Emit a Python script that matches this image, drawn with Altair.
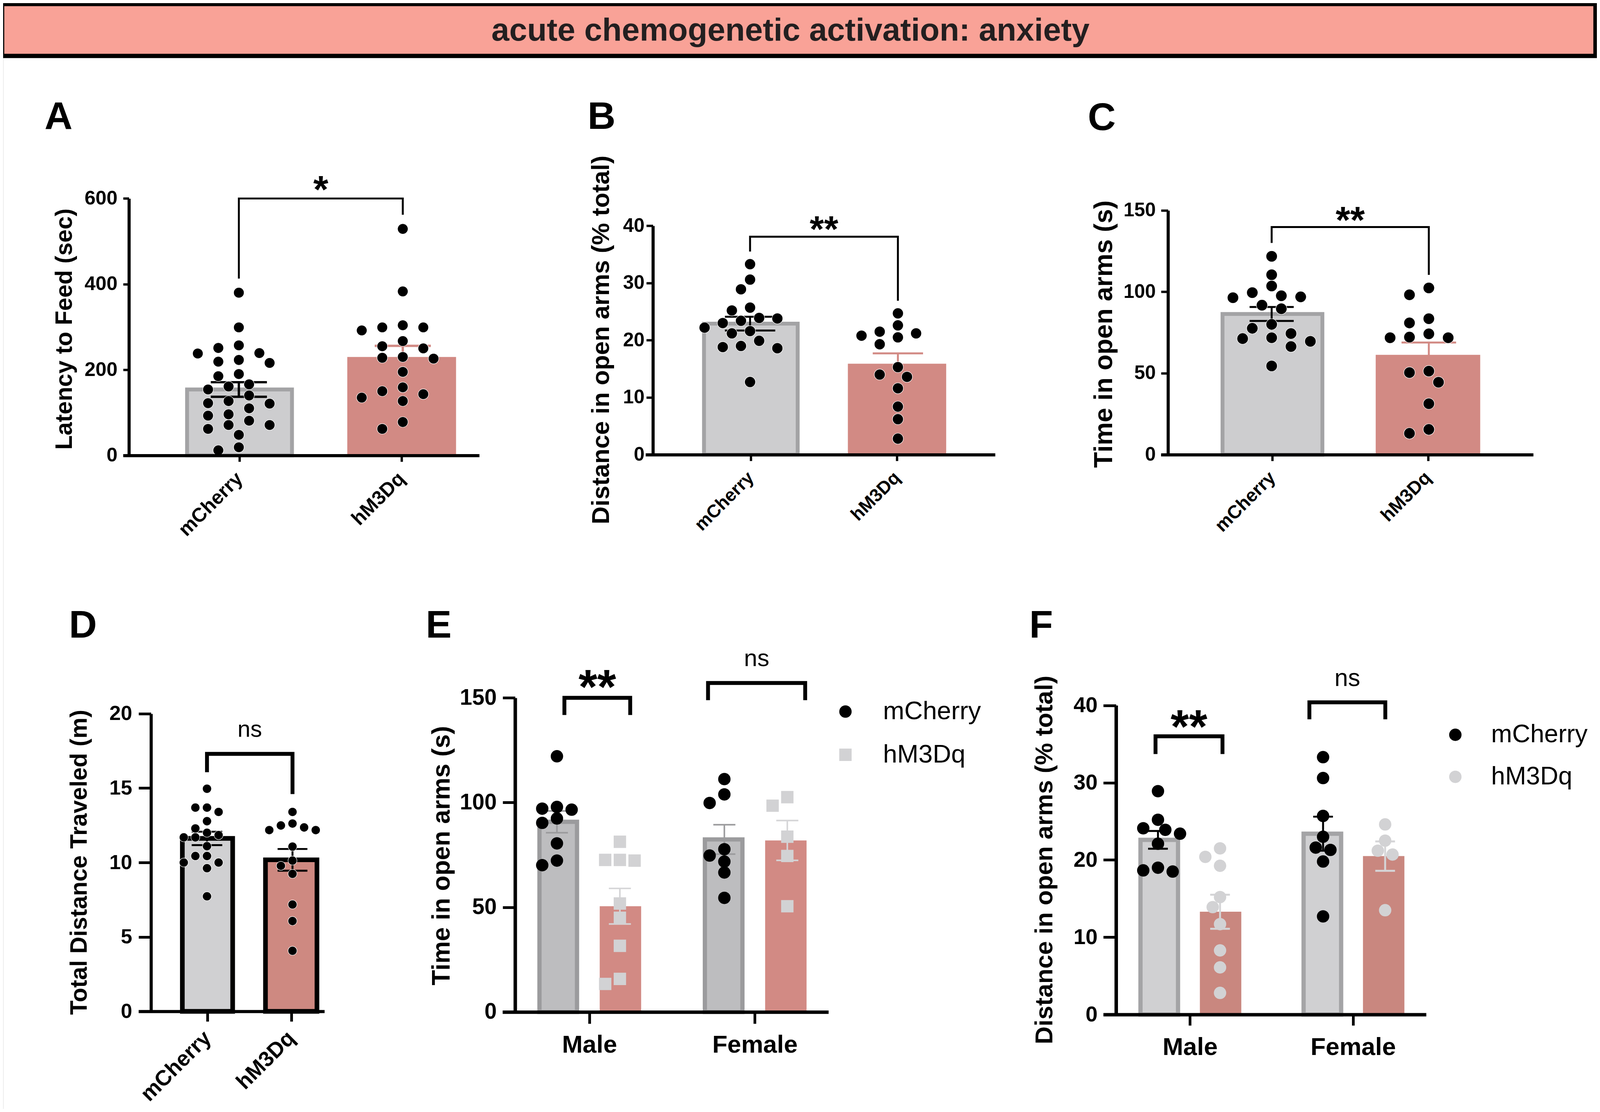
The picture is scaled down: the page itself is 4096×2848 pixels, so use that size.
import altair as alt
import pandas as pd

S = 0.991
W, H = 4080, 2832
FONT = "Liberation Sans"


def X(v):
    return round(v * S - 8, 2)


def Y(v):
    return round(v * S - 8, 2)


def L(v):
    return round(v * S, 2)


# ---------------- data ----------------
BANNER = "acute chemogenetic activation: anxiety"
GROUPS = ["mCherry", "hM3Dq"]
SEXES = ["Male", "Female"]

A_mcherry = [380, 299, 257, 251, 239, 238, 223, 219, 216, 190, 185, 166, 161, 154,
             140, 127, 122, 121, 110, 96, 93, 81, 71, 71, 62, 48, 19, 12]
A_hm3dq = [529, 383, 304, 299, 299, 292, 267, 255, 250, 230, 228, 226, 195, 159,
           150, 143, 135, 127, 78, 62]
A_mean = [154, 230]
A_sem = [17, 26]

B_mcherry = [33.3, 30.6, 28.9, 25.7, 25.2, 23.9, 23.8, 23.4, 23.0, 22.2, 21.6, 21.2,
             19.9, 19.0, 18.8, 18.6, 12.7]
B_hm3dq = [24.7, 22.6, 21.5, 21.2, 20.8, 20.5, 19.3, 15.3, 14.0, 13.6, 11.6, 8.4, 6.2, 2.8]
B_mean = [22.9, 15.9]
B_sem = [1.2, 1.8]

C_mcherry = [121.8, 110.5, 103.6, 99.5, 97.6, 96.9, 96.4, 91.8, 89.6, 80.0, 77.6, 74.4,
             71.8, 71.3, 69.6, 66.4, 54.5]
C_hm3dq = [102.4, 98.2, 83.5, 80.9, 74.2, 72.2, 71.8, 71.8, 51.3, 50.4, 44.5, 31.3, 15.5, 13.1]
C_mean = [86.4, 61.3]
C_sem = [4.3, 7.6]

D_mcherry = [14.96, 13.69, 13.69, 13.4, 12.78, 12.29, 12.0, 11.84, 11.69, 11.69, 11.1,
             10.44, 10.44, 10.0, 10.0, 9.62, 7.73]
D_hm3dq = [13.4, 12.62, 12.49, 12.36, 12.18, 12.18, 11.07, 10.13, 9.78, 9.24, 7.18, 6.07, 4.07]
D_mean = [11.62, 10.18]
D_sem = [0.45, 0.73]

E_male_mcherry = [122.1, 97.9, 97.1, 96.6, 92.4, 90.3, 80.5, 72.3, 70.1]
E_male_hm3dq = [81.3, 72.6, 72.6, 72.3, 51.8, 45.0, 31.6, 15.8, 13.4]
E_female_mcherry = [111.2, 103.9, 99.8, 77.7, 74.7, 71.8, 66.6, 54.5]
E_female_hm3dq = [102.6, 98.5, 83.7, 74.5, 50.5]
E_mean_male = [90.8, 50.5]
E_mean_female = [82.4, 81.9]
E_sem_male = [5.2, 8.5]
E_sem_female = [7.0, 9.5]

F_male_mcherry = [28.9, 25.2, 24.1, 23.9, 23.4, 22.1, 19.0, 18.65, 18.5]
F_male_hm3dq = [21.5, 20.4, 19.25, 15.2, 13.9, 11.7, 8.3, 6.1, 2.8]
F_female_mcherry = [33.3, 30.6, 25.7, 23.0, 21.6, 21.3, 19.8, 12.7]
F_female_hm3dq = [24.6, 22.5, 21.2, 20.7, 13.5]
F_mean_male = [22.6, 13.3]
F_mean_female = [23.4, 20.5]
F_sem_male = [1.15, 2.2]
F_sem_female = [2.2, 1.9]

# ---------------- styles ----------------
PINK = "#F9A297"
GREY = "#CDCDCF"
GREY_EDGE = "#A3A3A5"
SALMON = "#D28A84"
D_GREY = "#D0D0D2"
D_SALMON = "#CE8981"
E_GREY = "#BDBDBF"
E_EDGE = "#9B9B9D"
F_GREY = "#D0D0D2"
F_EDGE = "#A4A4A6"
F_SALMON = "#C9877F"
LIGHT = "#D2D2D4"
ERR_LIGHT = "#D5D5D7"

OFF = 0.188  # sub-position of the two bars inside a sex group

# layout of each panel, in reference pixels
CFG = {
    "A": dict(yx=333, y0=1177, ytop=513, ymax=600, yticks=[0, 200, 400, 600],
              xr=(318, 1238), p0=617, p1=1040.5, title="Latency to Feed (sec)",
              title_fs=61, title_cx=167, title_cy=850, lab_fs=51, lab_pad=15,
              tick=15, tick_w=6, dom_w=8, xtick=16, xlab_fs=51, xlab_pad=36, xangle=315,
              d=27, g=53, cd=27, labels=GROUPS, bw=5),
    "B": dict(yx=1686.6, y0=1175, ytop=583.6, ymax=40, yticks=[0, 10, 20, 30, 40],
              xr=(1667.5, 2570.6), p0=1937.6, p1=2319.5,
              title="Distance in open arms (% total)", title_fs=64, title_cx=1553,
              title_cy=878, lab_fs=50, lab_pad=5, tick=17, tick_w=6, dom_w=8, xtick=16,
              xlab_fs=47, xlab_pad=36, xangle=315, d=28, g=47, cd=28, labels=GROUPS, bw=5),
    "C": dict(yx=3017.2, y0=1175.1, ytop=543.8, ymax=150, yticks=[0, 50, 100, 150],
              xr=(2999, 3960.7), p0=3285, p1=3691, title="Time in open arms (s)",
              title_fs=67, title_cx=2852, title_cy=863, lab_fs=50, lab_pad=14,
              tick=18, tick_w=6, dom_w=8, xtick=16, xlab_fs=48, xlab_pad=36, xangle=315,
              d=29, g=50, cd=29, labels=GROUPS, bw=5),
    "D": dict(yx=390, y0=2613.7, ytop=1844.5, ymax=20, yticks=[0, 5, 10, 15, 20],
              xr=(357.7, 838), p0=534.7, p1=755.6, title="Total Distance Traveled (m)",
              title_fs=61, title_cx=205, title_cy=2228, lab_fs=53, lab_pad=17,
              tick=32, tick_w=7, dom_w=8, xtick=26, xlab_fs=56, xlab_pad=34, xangle=315,
              d=23, g=30, cd=23, labels=GROUPS, bw=10),
    "E": dict(yx=1330.6, y0=2615.4, ytop=1803.5, ymax=150, yticks=[0, 50, 100, 150],
              xr=(1298, 2140), p0=1520, p1=1952.5, title="Time in open arms (s)",
              title_fs=65, title_cx=1142, title_cy=2211, lab_fs=57, lab_pad=16,
              tick=32, tick_w=7, dom_w=9, xtick=30, xlab_fs=64, xlab_pad=24, xangle=0,
              d=32, g=38, cd=28, labels=SEXES, bw=10),
    "F": dict(yx=2883, y0=2622, ytop=1823, ymax=40, yticks=[0, 10, 20, 30, 40],
              xr=(2850, 3684), p0=3071.5, p1=3498,
              title="Distance in open arms (% total)", title_fs=64, title_cx=2699,
              title_cy=2222, lab_fs=56, lab_pad=15, tick=33, tick_w=7, dom_w=9, xtick=28,
              xlab_fs=64, xlab_pad=26, xangle=0, d=32, g=38, cd=28, labels=SEXES, bw=10),
}

# significance brackets (data units of each panel)
BRACKETS = {
    "A": [dict(x0=0, x1=1, top=600, l=413, r=562, t="*", fs=100, ty=590.5, bold=True)],
    "B": [dict(x0=0, x1=1, top=38.1, l=35.5, r=26.9, t="**", fs=95, ty=37.2, bold=True)],
    "C": [dict(x0=0, x1=1, top=139.8, l=130, r=110.4, t="**", fs=97, ty=136.1, bold=True)],
    "D": [dict(x0=0, x1=1, top=17.3, l=16.07, r=14.6, t="ns", fs=60, ty=18.44, bold=False)],
    "E": [dict(x0=-0.1434, x1=0.2497, top=150, l=141.8, r=141.8, t="**", fs=125, ty=147.2, bold=True),
          dict(x0=0.7145, x1=1.2948, top=157.1, l=148.9, r=148.9, t="ns", fs=62, ty=165.2, bold=False)],
    "F": [dict(x0=-0.2028, x1=0.2028, top=36, l=33.7, r=33.7, t="**", fs=122, ty=35.17, bold=True),
          dict(x0=0.7292, x1=1.189, top=40.4, l=38.2, r=38.2, t="ns", fs=63, ty=42.5, bold=False)],
}


def scales(c):
    k = c["p1"] - c["p0"]
    xs = alt.Scale(domain=[(c["xr"][0] - c["p0"]) / k, (c["xr"][1] - c["p0"]) / k],
                   range=[X(c["xr"][0]), X(c["xr"][1])], nice=False, zero=False)
    ys = alt.Scale(domain=[0, c["ymax"]], range=[Y(c["y0"]), Y(c["ytop"])],
                   nice=False, zero=False)
    return xs, ys


def y_axis(c):
    return alt.Axis(
        orient="left", offset=-X(c["yx"]), values=c["yticks"], format="d",
        title=c["title"], titleFont=FONT, titleFontSize=L(c["title_fs"]),
        titleFontWeight="bold", titleColor="black", titleAngle=270,
        titleAlign="center", titleBaseline="middle", titleLimit=0,
        titleX=L(c["title_cx"] - c["yx"]), titleY=Y(c["title_cy"]),
        labelFont=FONT, labelFontSize=L(c["lab_fs"]), labelFontWeight="bold",
        labelColor="black", labelPadding=L(c["lab_pad"]), labelFlush=False,
        labelOverlap=False, labelLimit=0, tickSize=L(c["tick"]), tickWidth=L(c["tick_w"]),
        tickColor="black", domainWidth=L(c["dom_w"]), domainColor="black",
        grid=False, zindex=2)


def x_axis(c):
    a, b = c["labels"]
    kw = dict(
        orient="bottom", offset=round(Y(c["y0"]) - H, 2), values=[0, 1],
        labelExpr=f"datum.value < 0.5 ? '{a}' : '{b}'", title=None,
        labelFont=FONT, labelFontSize=L(c["xlab_fs"]), labelFontWeight="bold",
        labelColor="black", labelPadding=L(c["xlab_pad"]), labelFlush=False,
        labelOverlap=False, labelLimit=0, tickSize=L(c["xtick"]), tickWidth=L(c["tick_w"]),
        tickColor="black", domainWidth=L(c["dom_w"]), domainColor="black",
        grid=False, zindex=2, labelAngle=c["xangle"])
    if c["xangle"]:
        kw.update(labelAlign="right", labelBaseline="middle")
    else:
        kw.update(labelAlign="center", labelBaseline="top")
    return alt.Axis(**kw)


def enc(c, xf="x", yf="y", axes=False):
    xs, ys = scales(c)
    return {
        "x": alt.X(f"{xf}:Q", scale=xs, axis=x_axis(c) if axes else None),
        "y": alt.Y(f"{yf}:Q", scale=ys, axis=y_axis(c) if axes else None),
    }


def swarm(vals, center, c):
    ypu = (c["y0"] - c["ytop"]) / c["ymax"]
    xpu = c["p1"] - c["p0"]
    g, dd = c["g"], c["cd"]
    h = g / 2
    cands = [0.0]
    for k in range(1, 14):
        cands += [-k * h, k * h]
    order = sorted(range(len(vals)), key=lambda i: -vals[i])
    placed = []
    out = [0.0] * len(vals)
    for i in order:
        py = vals[i] * ypu
        chosen = cands[-1]
        for off in cands:
            if all(((off - ox) / g) ** 2 + ((py - oy) / dd) ** 2 >= 1 for ox, oy in placed):
                chosen = off
                break
        placed.append((chosen, py))
        out[i] = center + chosen / xpu
    return out


def bar_layer(c, xs_, means, w, fill, stroke=None, sw=0, axes=False):
    df = pd.DataFrame({"x": xs_, "m": means, "b": [0.0] * len(xs_)})
    mk = dict(size=L(w), fill=fill, opacity=1)
    if stroke:
        mk.update(stroke=stroke, strokeWidth=L(sw))
    e = enc(c, "x", "m", axes)
    e["y2"] = alt.Y2("b:Q")
    return alt.Chart(df).mark_bar(**mk).encode(**e)


def err_layers(c, xs_, means, sems, color, cap, w):
    lo = [m - s for m, s in zip(means, sems)]
    hi = [m + s for m, s in zip(means, sems)]
    df = pd.DataFrame({"x": xs_, "lo": lo, "hi": hi})
    e = enc(c, "x", "lo")
    e["y2"] = alt.Y2("hi:Q")
    rule = alt.Chart(df).mark_rule(color=color, strokeWidth=L(w), opacity=1).encode(**e)
    dfc = pd.DataFrame({"x": xs_ + xs_, "v": lo + hi})
    ticks = alt.Chart(dfc).mark_tick(orient="horizontal", size=L(cap), thickness=L(w),
                                     color=color, opacity=1).encode(**enc(c, "x", "v"))
    return [rule, ticks]


def bracket_layers(c, brs):
    rows = []
    for j, b in enumerate(brs):
        rows += [dict(id=j, o=0, x=b["x0"], y=b["l"]), dict(id=j, o=1, x=b["x0"], y=b["top"]),
                 dict(id=j, o=2, x=b["x1"], y=b["top"]), dict(id=j, o=3, x=b["x1"], y=b["r"])]
    e = enc(c)
    e["order"] = alt.Order("o:Q")
    e["detail"] = alt.Detail("id:N")
    out = [alt.Chart(pd.DataFrame(rows)).mark_line(
        color="black", strokeWidth=L(c["bw"]), strokeJoin="miter", strokeCap="butt",
        opacity=1).encode(**e)]
    for b in brs:
        df = pd.DataFrame({"x": [(b["x0"] + b["x1"]) / 2], "y": [b["ty"]], "t": [b["t"]]})
        e = enc(c)
        e["text"] = alt.Text("t:N")
        out.append(alt.Chart(df).mark_text(
            font=FONT, fontSize=L(b["fs"]), fontWeight="bold" if b["bold"] else "normal",
            baseline="alphabetic", align="center", color="black").encode(**e))
    return out


def simple_panel(key, pts, means, sems, bars, errs):
    c = CFG[key]
    layers = []
    pos = [0.0, 1.0]
    for i in range(2):
        layers.append(bar_layer(c, [pos[i]], [means[i]], axes=(i == 0), **bars[i]))
    for i in range(2):
        layers += err_layers(c, [pos[i]], [means[i]], [sems[i]], **errs[i])
    xs_ = swarm(pts[0], pos[0], c) + swarm(pts[1], pos[1], c)
    df = pd.DataFrame({"x": xs_, "y": pts[0] + pts[1]})
    layers.append(alt.Chart(df).mark_point(
        shape="circle", filled=True, fill="black", stroke="white", strokeWidth=L(1.2),
        size=round(L(c["d"]) ** 2, 1), opacity=1).encode(**enc(c)))
    layers += bracket_layers(c, BRACKETS[key])
    return layers


def sex_panel(key, pts, means, sems, grey, edge, salmon, err_colors, cap, ew,
              light_shape, legend_pos):
    c = CFG[key]
    layers = []
    xm = [0 - OFF, 1 - OFF]
    xh = [0 + OFF, 1 + OFF]
    layers.append(bar_layer(c, xm, [means[0][0], means[1][0]], 97, grey, edge, 11, axes=True))
    layers.append(bar_layer(c, xh, [means[0][1], means[1][1]], 107, salmon))
    layers += err_layers(c, xm, [means[0][0], means[1][0]], [sems[0][0], sems[1][0]],
                         err_colors[0], cap, ew)
    layers += err_layers(c, xh, [means[0][1], means[1][1]], [sems[0][1], sems[1][1]],
                         err_colors[1], cap, ew)
    xs_, ys_, gs_ = [], [], []
    for s in range(2):
        for gi in range(2):
            ctr = s + (OFF if gi else -OFF)
            vals = pts[s][gi]
            xs_ += swarm(vals, ctr, c)
            ys_ += vals
            gs_ += [GROUPS[gi]] * len(vals)
    df = pd.DataFrame({"x": xs_, "y": ys_, "g": gs_})
    lx, ly, lgap, loff, lfs = legend_pos
    leg = alt.Legend(orient="none", legendX=X(lx) - L(c["d"]) / 2, legendY=Y(ly) - L(lfs) / 2,
                     title=None, labelFont=FONT, labelFontSize=L(lfs), labelColor="black",
                     labelLimit=0,
                     symbolSize=round(L(c["d"]) ** 2, 1), symbolStrokeWidth=0,
                     symbolOpacity=1, labelOffset=L(loff), rowPadding=L(lgap) - L(lfs),
                     padding=0)
    e = enc(c)
    e["color"] = alt.Color("g:N", scale=alt.Scale(domain=GROUPS, range=["black", LIGHT]),
                           legend=leg)
    e["shape"] = alt.Shape("g:N", scale=alt.Scale(domain=GROUPS,
                                                  range=["circle", light_shape]), legend=leg)
    layers.append(alt.Chart(df).mark_point(filled=True, size=round(L(c["d"]) ** 2, 1),
                                           opacity=1, strokeWidth=0).encode(**e))
    layers += bracket_layers(c, BRACKETS[key])
    return layers


layers = []
one = pd.DataFrame({"t": [BANNER]})
layers.append(alt.Chart(one).mark_rect(fill=PINK, stroke="black", strokeWidth=L(11)).encode(
    x=alt.value(X(5.5)), x2=alt.value(X(4121.5)), y=alt.value(Y(10.5)), y2=alt.value(Y(144.5))))
layers.append(alt.Chart(one).mark_text(font=FONT, fontSize=L(83), fontWeight="bold",
                                       color="#231F20", align="center",
                                       baseline="alphabetic").encode(
    x=alt.value(X(2042)), y=alt.value(Y(104.6)), text="t:N"))

layers += simple_panel("A", [A_mcherry, A_hm3dq], A_mean, A_sem,
                       [dict(w=271, fill=GREY, stroke=GREY_EDGE, sw=10), dict(w=281, fill=SALMON)],
                       [dict(color="black", cap=145, w=6), dict(color=SALMON, cap=145, w=6)])
layers += simple_panel("B", [B_mcherry, B_hm3dq], B_mean, B_sem,
                       [dict(w=242, fill=GREY, stroke=GREY_EDGE, sw=10), dict(w=254, fill=SALMON)],
                       [dict(color="black", cap=130, w=5), dict(color=SALMON, cap=130, w=5)])
layers += simple_panel("C", [C_mcherry, C_hm3dq], C_mean, C_sem,
                       [dict(w=258, fill=GREY, stroke=GREY_EDGE, sw=10), dict(w=270, fill=SALMON)],
                       [dict(color="black", cap=114, w=5), dict(color=SALMON, cap=141, w=5)])
layers += simple_panel("D", [D_mcherry, D_hm3dq], D_mean, D_sem,
                       [dict(w=130, fill=D_GREY, stroke="black", sw=12),
                        dict(w=133, fill=D_SALMON, stroke="black", sw=12)],
                       [dict(color="black", cap=79, w=5), dict(color="black", cap=77, w=5)])
layers += sex_panel("E", [[E_male_mcherry, E_male_hm3dq], [E_female_mcherry, E_female_hm3dq]],
                    [E_mean_male, E_mean_female], [E_sem_male, E_sem_female],
                    E_GREY, E_EDGE, SALMON, [E_EDGE, ERR_LIGHT], 57, 4, "square",
                    (2167, 1839, 110, 64, 66))
layers += sex_panel("F", [[F_male_mcherry, F_male_hm3dq], [F_female_mcherry, F_female_hm3dq]],
                    [F_mean_male, F_mean_female], [F_sem_male, F_sem_female],
                    F_GREY, F_EDGE, F_SALMON, ["black", ERR_LIGHT], 51, 5, "circle",
                    (3743, 1899, 108, 60, 65))

LETTERS = [("A", 115, 333, 100), ("B", 1518, 333, 100), ("C", 2810, 336, 100),
           ("D", 178, 1648, 100), ("E", 1100, 1648, 100), ("F", 2659, 1648, 100)]
for ch, lx, ly, fs in LETTERS:
    layers.append(alt.Chart(pd.DataFrame({"t": [ch]})).mark_text(
        font=FONT, fontSize=L(fs), fontWeight="bold", color="black", align="left",
        baseline="alphabetic").encode(x=alt.value(X(lx)), y=alt.value(Y(ly)), text="t:N"))

chart = alt.layer(*layers).resolve_scale(
    x="independent", y="independent", color="independent", shape="independent"
).properties(
    width=W, height=H, autosize=alt.AutoSizeParams(type="none"), padding=0
).configure_view(stroke=None).configure(background="white")

chart.save("out.html", embed_options={"renderer": "svg", "actions": False})
